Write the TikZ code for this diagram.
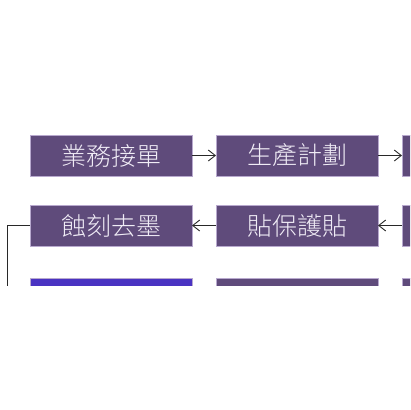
\documentclass[tikz,border=0pt]{standalone}
\usepackage{fontspec}
\setmainfont{Noto Sans CJK TC Light}
\usetikzlibrary{positioning, arrows.meta}
\definecolor{stepcolor}{RGB}{95, 75, 123}
\definecolor{curcolor}{RGB}{74, 51, 194}
\definecolor{edgecolor}{RGB}{184, 169, 206}
\definecolor{txtcolor}{RGB}{240, 236, 246}
\definecolor{arrcolor}{RGB}{40, 40, 40}

\begin{document}
\begin{tikzpicture}[
  x=1pt, y=1pt,
  >={Straight Barb[length=7pt, width=11pt]},
  node distance=24pt,
  % --- Styles ---
  stepbox/.style={
    rectangle, draw=edgecolor, fill=#1, line width=0.9pt,
    minimum width=162pt, minimum height=41pt, inner sep=0pt, outer sep=0pt,
    text=txtcolor, font=\fontsize{25}{25}\selectfont},
  stepbox/.default=stepcolor,
  flow/.style={->, line width=0.9pt, arrcolor},
]
\useasboundingbox (0,0) rectangle (410,-410);
\begin{scope}
\clip (0,0) rectangle (410,-285);
% === NODES ===
% row 1
\node[stepbox] (order) at (111,-155.5) {業務接單};
\node[stepbox, right=of order] (plan) {生產計劃};
\node[stepbox, right=of plan] (r1c) {};
% row 2
\node[stepbox, below=29pt of order] (etch) {蝕刻去墨};
\node[stepbox, right=of etch] (film) {貼保護貼};
\node[stepbox, right=of film] (r2c) {};
% row 3
\node[stepbox=curcolor, below=32pt of etch] (r3a) {};
\node[stepbox, right=of r3a] (r3b) {};
\node[stepbox, right=of r3b] (r3c) {};

% === ARROWS ===
\draw[flow] (order) -- (plan);
\draw[flow] (plan) -- (r1c);
\draw[flow] (r2c) -- (film);
\draw[flow] (film) -- (etch);
\draw[flow] (etch.west) -- ++(-23,0) |- (r3a.west);
\end{scope}
\end{tikzpicture}
\end{document}
